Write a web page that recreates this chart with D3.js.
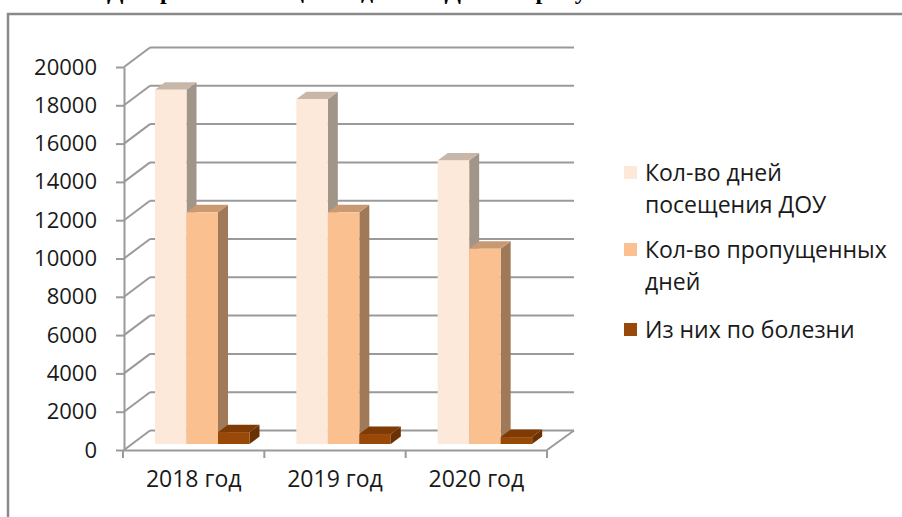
<!DOCTYPE html>
<html>
<head>
<meta charset="utf-8">
<script src="https://cdn.jsdelivr.net/npm/d3@7"></script>
<style>
  body { margin: 0; background: #fff; }
  svg { display: block; font-family: "Open Sans", sans-serif; }
</style>
</head>
<body>
<script>
// 3D-ish grouped bar chart, Excel look
const years = ["2018 год", "2019 год", "2020 год"]
const series = ["Кол-во дней посещения ДОУ", "Кол-во пропущенных дней", "Из них по болезни"]
const visits = [18500, 18000, 14800]
const missed = [12100, 12100, 10200]
const sick = [620, 520, 360]
const yTicks = [0, 2000, 4000, 6000, 8000, 10000, 12000, 14000, 16000, 18000, 20000]
const legendLines = [["Кол-во дней", "посещения ДОУ"], ["Кол-во пропущенных", "дней"], ["Из них по болезни"]]
const titleText = "Диаграмма посещения детьми ДОУ и пропусков по болезни"

const values = [visits, missed, sick]
const frontCol = ["#FDE9D9", "#FAC090", "#984807"]
const sideCol = ["#A19488", "#A07A58", "#6A3105"]
const topCol = ["#C8B7A8", "#C99A72", "#7E3B06"]

const w = 902, h = 517
const depth = {dx: 27, dy: -19.5}   // wall depth
const bar = {dx: 10, dy: -7.5, lift: 6}

const svg = d3.select("body").append("svg").attr("width", w).attr("height", h)

// title (cut off at top in the original, only the descenders show)
svg.append("text")
   .attr("x", 432).attr("y", -1.5)
   .attr("text-anchor", "middle")
   .style("font-family", "'Liberation Serif', serif")
   .style("font-weight", "bold")
   .style("font-size", "24px")
   .text(titleText)

// chart frame
svg.append("path")
   .attr("d", "M8,517 L8,14 L902,14")
   .attr("fill", "none").attr("stroke", "#8a8a8a").attr("stroke-width", 2.5)

const y = d3.scaleLinear().domain([0, 20000]).range([450, 67])
const x = d3.scaleBand().domain(years).range([123, 547])
const xs = d3.scaleBand().domain(series).range([32, 126.5])

const grid = "#9a9a9a"
const x0 = x.range()[0], x1 = x.range()[1]

// back wall + left wall lines
yTicks.forEach(v => {
  svg.append("line")
     .attr("x1", x0 + depth.dx).attr("x2", x1 + depth.dx)
     .attr("y1", y(v) + depth.dy).attr("y2", y(v) + depth.dy)
     .attr("stroke", grid).attr("stroke-width", 2)
  svg.append("line")
     .attr("x1", x0 + 1).attr("x2", x0 + depth.dx)
     .attr("y1", y(v)).attr("y2", y(v) + depth.dy)
     .attr("stroke", grid).attr("stroke-width", 2)
})

// floor right edge
svg.append("line")
   .attr("x1", x1).attr("x2", x1 + depth.dx)
   .attr("y1", y(0)).attr("y2", y(0) + depth.dy)
   .attr("stroke", grid).attr("stroke-width", 2)

// bars
years.forEach((yr, i) => {
  series.forEach((s, j) => {
    const v = values[j][i]
    const bx = x(yr) + xs(s), bw = xs.bandwidth()
    const by = y(v) - bar.lift, bb = y(0) - bar.lift
    const g = svg.append("g")
    g.append("path")
     .attr("d", `M${bx + bw},${by} L${bx + bw + bar.dx},${by + bar.dy} L${bx + bw + bar.dx},${bb + bar.dy} L${bx + bw},${bb} Z`)
     .attr("fill", sideCol[j])
    g.append("path")
     .attr("d", `M${bx},${by} L${bx + bar.dx},${by + bar.dy} L${bx + bw + bar.dx},${by + bar.dy} L${bx + bw},${by} Z`)
     .attr("fill", topCol[j])
    g.append("rect")
     .attr("x", bx).attr("y", by).attr("width", bw).attr("height", bb - by)
     .attr("fill", frontCol[j])
  })
})

// y axis
const yAxis = d3.axisLeft(y).tickValues(yTicks).tickFormat(d3.format("d"))
                .tickSize(8).tickSizeOuter(0).tickPadding(19)
const ya = svg.append("g").attr("transform", `translate(${x0 + 1},0)`).call(yAxis)
ya.select(".domain").attr("stroke", grid).attr("stroke-width", 2)
ya.selectAll(".tick line").attr("stroke", grid).attr("stroke-width", 2)
ya.selectAll("text").style("font-size", "22px").attr("fill", "#1a1a1a")
  .style("font-family", "'Open Sans', sans-serif")

// x axis
const xAxis = d3.axisBottom(x).tickSize(0).tickSizeOuter(0).tickPadding(21)
const xa = svg.append("g").attr("transform", `translate(0,${y(0)})`).call(xAxis)
xa.select(".domain").attr("stroke", grid).attr("stroke-width", 2)
xa.selectAll("text").style("font-size", "23px").attr("fill", "#1a1a1a")
  .style("font-family", "'Open Sans', sans-serif")
years.concat([null]).forEach((yr, i) => {
  const tx = yr ? x(yr) : x1
  svg.append("line")
     .attr("x1", tx).attr("x2", tx).attr("y1", y(0)).attr("y2", y(0) + 8)
     .attr("stroke", grid).attr("stroke-width", 2)
})

// legend
const legY = [173, 250, 330]
const lg = svg.append("g")
series.forEach((s, j) => {
  lg.append("rect")
    .attr("x", 624).attr("y", legY[j] - 7).attr("width", 13).attr("height", 13)
    .attr("fill", frontCol[j])
  legendLines[j].forEach((line, k) => {
    lg.append("text")
      .attr("x", 645).attr("y", legY[j] + k * 32 + 8)
      .style("font-size", "23px").attr("fill", "#1a1a1a")
      .text(line)
  })
})
</script>
</body>
</html>
